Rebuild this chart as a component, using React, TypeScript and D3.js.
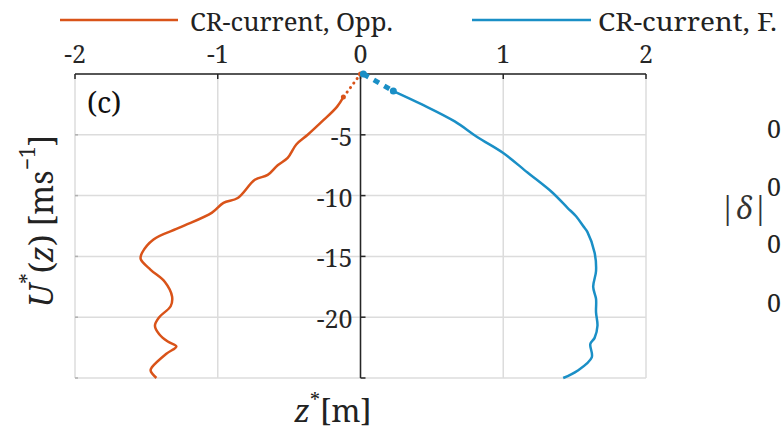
import React from "react";
import * as d3 from "d3";

const xTicks = [-2, -1, 0, 1, 2];
const yTicks = [0, -5, -10, -15, -20, -25];
const yTickLabels = ["-5", "-10", "-15", "-20"];

// Opposing current: near-surface dotted part and measured profile
const oppNearU = [0, -0.12];
const oppNearZ = [0, -1.9];
const oppU = [-0.12, -0.165, -0.26, -0.37, -0.45, -0.51, -0.58, -0.65, -0.74, -0.86, -0.96, -1.04, -1.26, -1.45, -1.53, -1.54, -1.47, -1.37, -1.32, -1.33, -1.41, -1.44, -1.41, -1.35, -1.29, -1.36, -1.46, -1.47, -1.43];
const oppZ = [-1.9, -2.7, -3.8, -5, -5.8, -6.9, -7.5, -8.3, -8.7, -10.2, -10.6, -11.4, -12.6, -13.6, -14.7, -15.2, -16.1, -17.1, -18.3, -19.1, -20, -20.7, -21.4, -22, -22.4, -23, -24.1, -24.4, -25];

// Following current
const folNearU = [0.02, 0.23];
const folNearZ = [0, -1.4];
const folU = [0.23, 0.43, 0.66, 0.82, 1.0, 1.17, 1.34, 1.45, 1.51, 1.56, 1.59, 1.64, 1.65, 1.63, 1.65, 1.65, 1.66, 1.64, 1.61, 1.62, 1.52, 1.42];
const folZ = [-1.4, -2.5, -3.9, -5.2, -6.5, -8.1, -9.7, -11.0, -11.7, -12.5, -13.0, -14.7, -16.2, -17.5, -18.5, -19.6, -20.7, -21.7, -22.2, -23.3, -24.4, -25];

const legendLabels = ["CR-current, Opp.", "CR-current, F."];
const rightTickLabels = ["0", "0", "0", "0"];

const ORANGE = "#D95319";
const BLUE = "#1A8FC6";
const GRID = "#DCDCDC";
const AXIS = "#262626";
const FONT = "'Noto Serif', 'Liberation Serif', serif";

export default function App() {
  const x = d3.scaleLinear().domain([-2, 2]).range([75, 646]);
  const y = d3.scaleLinear().domain([0, -25]).range([74, 378]);
  const line = d3
    .line<[number, number]>()
    .x((d) => x(d[0]))
    .y((d) => y(d[1]))
    .curve(d3.curveCatmullRom.alpha(0.5));
  const straight = d3
    .line<[number, number]>()
    .x((d) => x(d[0]))
    .y((d) => y(d[1]));
  const zip = (a: number[], b: number[]) => a.map((v, i) => [v, b[i]] as [number, number]);

  const oppPts = zip(oppU, oppZ);
  const oppNear = zip(oppNearU, oppNearZ);
  const folPts = zip(folU, folZ);
  const folNear = zip(folNearU, folNearZ);
  const txt = { fontFamily: FONT };

  return (
    <svg
      width={781}
      height={433}
      style={{ position: "fixed", left: 0, top: 0, background: "#fff", fontFamily: FONT }}
    >
      <rect x={0} y={0} width={781} height={433} fill="#fff" />
      {/* grid */}
      {xTicks.map((t) => (
        <line key={"gx" + t} x1={x(t)} x2={x(t)} y1={y(0)} y2={y(-25)} stroke={GRID} strokeWidth={1.5} />
      ))}
      {yTicks.map((t) => (
        <line key={"gy" + t} x1={x(-2)} x2={x(2)} y1={y(t)} y2={y(t)} stroke={GRID} strokeWidth={1.5} />
      ))}
      {yTicks.slice(1).map((t) => (
        <line key={"lt" + t} x1={x(-2)} x2={x(-2) + 3} y1={y(t)} y2={y(t)} stroke="#B0B0B0" strokeWidth={1.5} />
      ))}
      {/* top axis */}
      <line x1={x(-2)} x2={x(2)} y1={y(0)} y2={y(0)} stroke={AXIS} strokeWidth={1.5} />
      {xTicks.map((t) => (
        <line key={"tx" + t} x1={x(t)} x2={x(t)} y1={y(0)} y2={y(0) + 5} stroke={AXIS} strokeWidth={1.5} />
      ))}
      {xTicks.map((t) => (
        <text key={"lx" + t} style={txt} x={x(t)} y={53} fontSize={25} textAnchor="middle" dominantBaseline="central" fill={AXIS}>
          {t < 0 ? "-" + Math.abs(t) : String(t)}
        </text>
      ))}
      {/* zero vertical axis */}
      <line x1={x(0)} x2={x(0)} y1={y(0)} y2={y(-25)} stroke={AXIS} strokeWidth={1.5} />
      {yTicks.slice(1).map((t) => (
        <line key={"ty" + t} x1={x(0)} x2={x(0) + 5} y1={y(t)} y2={y(t)} stroke={AXIS} strokeWidth={1.5} />
      ))}
      {yTicks.slice(1, 5).map((t, i) => (
        <text key={"ly" + t} style={txt} x={x(0) - 8} y={y(t) + 1} fontSize={25} textAnchor="end" dominantBaseline="central" fill={AXIS}>
          {yTickLabels[i]}
        </text>
      ))}
      {/* curves */}
      <path d={line(oppPts) || ""} fill="none" stroke={ORANGE} strokeWidth={2.5} strokeLinejoin="round" />
      <path d={straight(oppNear) || ""} fill="none" stroke={ORANGE} strokeWidth={3} strokeDasharray="0.1 5.5" strokeLinecap="round" />
      {oppNear.map((p, i) => (
        <circle key={"od" + i} cx={x(p[0])} cy={y(p[1])} r={2.5} fill={ORANGE} />
      ))}
      <path d={line(folPts) || ""} fill="none" stroke={BLUE} strokeWidth={2.5} strokeLinejoin="round" />
      <path d={straight(folNear) || ""} fill="none" stroke={BLUE} strokeWidth={5} strokeDasharray="6 6" />
      {folNear.map((p, i) => (
        <circle key={"fd" + i} cx={x(p[0])} cy={y(p[1])} r={3.5} fill={BLUE} />
      ))}
      {/* panel label */}
      <text style={txt} x={87} y={101} fontSize={29} dominantBaseline="central" fill="#111">(c)</text>
      {/* y label (rotated) */}
      <text
        style={txt}
        transform={`translate(40, 221) rotate(-90)`}
        textAnchor="middle"
        dominantBaseline="central"
        fontSize={32}
        fill="#222"
      >
        <tspan fontStyle="italic">U</tspan>
        <tspan fontSize={21} dy={-12}>*</tspan>
        <tspan dy={12}>(</tspan>
        <tspan fontStyle="italic">z</tspan>
        <tspan>) [ms</tspan>
        <tspan fontSize={21} dy={-13}>−1</tspan>
        <tspan dy={13}>]</tspan>
      </text>
      {/* x label */}
      <text style={txt} x={333} y={410} textAnchor="middle" dominantBaseline="central" fontSize={31} fill="#222">
        <tspan fontStyle="italic">z</tspan>
        <tspan fontSize={20} dy={-11}>*</tspan>
        <tspan dy={11}>[m]</tspan>
      </text>
      {/* legend */}
      <line x1={60} x2={178} y1={20} y2={20} stroke={ORANGE} strokeWidth={2.5} />
      <text style={txt} x={190} y={21} fontSize={26} dominantBaseline="central" fill="#222" textLength={203} lengthAdjust="spacingAndGlyphs">{legendLabels[0]}</text>
      <line x1={472} x2={591} y1={20} y2={20} stroke={BLUE} strokeWidth={2.5} />
      <text style={txt} x={598} y={21} fontSize={26} dominantBaseline="central" fill="#222" textLength={179} lengthAdjust="spacingAndGlyphs">{legendLabels[1]}</text>
      {/* neighbouring panel fragment */}
      <text style={txt} x={744} y={207} fontSize={30} textAnchor="middle" dominantBaseline="central" fill="#333">
        |<tspan fontStyle="italic">δ</tspan>|
      </text>
      {[128, 186, 243, 302].map((yy, i) => (
        <text key={"rt" + i} style={txt} x={767} y={yy} fontSize={25} dominantBaseline="central" fill="#222">
          {rightTickLabels[i]}
        </text>
      ))}
    </svg>
  );
}
